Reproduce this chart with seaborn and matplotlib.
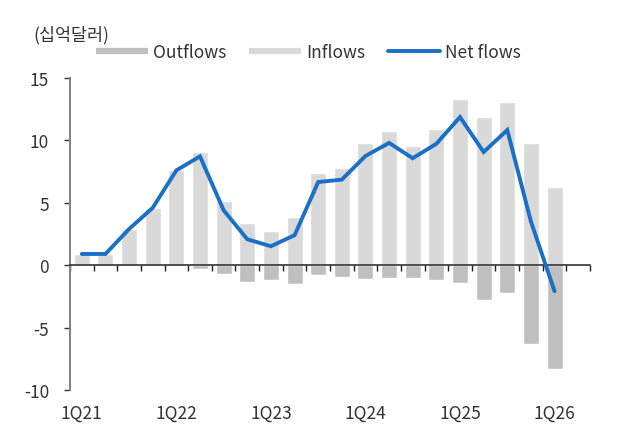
import numpy as np
import pandas as pd
import matplotlib
matplotlib.use("Agg")
import matplotlib.pyplot as plt
from matplotlib.lines import Line2D
from matplotlib.ticker import FixedLocator, NullFormatter
import seaborn as sns

# Quarterly fund flows, in billions of dollars
quarters = ["1Q21", "2Q21", "3Q21", "4Q21",
            "1Q22", "2Q22", "3Q22", "4Q22",
            "1Q23", "2Q23", "3Q23", "4Q23",
            "1Q24", "2Q24", "3Q24", "4Q24",
            "1Q25", "2Q25", "3Q25", "4Q25",
            "1Q26"]
inflows = [0.86, 0.86, 2.93, 4.6, 7.65, 9.04, 5.15, 3.41, 2.75, 3.9, 7.41,
           7.81, 9.8, 10.78, 9.55, 10.88, 13.28, 11.87, 13.07, 9.76, 6.3]
outflows = [0.0, 0.0, -0.02, -0.03, -0.05, -0.32, -0.72, -1.36, -1.2, -1.52,
            -0.75, -0.92, -1.08, -0.99, -1.0, -1.17, -1.44, -2.75, -2.24,
            -6.3, -8.35]
net_flows = [0.9, 0.9, 2.9, 4.6, 7.6, 8.72, 4.4, 2.08, 1.52, 2.4, 6.66,
             6.86, 8.75, 9.8, 8.57, 9.73, 11.87, 9.07, 10.83, 3.5, -2.08]
label_quarters = ["1Q21", "1Q22", "1Q23", "1Q24", "1Q25", "1Q26"]
y_ticks = [-10, -5, 0, 5, 10, 15]

df = pd.DataFrame({"quarter": quarters, "inflows": inflows,
                   "outflows": outflows, "net": net_flows})
df["pos"] = np.arange(len(df))

sns.set_style("white")
plt.rcParams["font.family"] = ["Noto Sans CJK KR", "DejaVu Sans"]
plt.rcParams["axes.unicode_minus"] = False

W, H, DPI = 626, 439, 100
fig = plt.figure(figsize=(W / DPI, H / DPI), dpi=DPI)
ax = fig.add_axes([70 / W, 1 - 391 / H, 520 / W, 312 / H])

c_out = "#bfbfbf"
c_in = "#d9d9d9"
c_net = "#1a6fc7"
txt = "#333333"

sns.barplot(data=df, x="quarter", y="inflows", color=c_in, width=0.68,
            saturation=1, ax=ax, zorder=2)
sns.barplot(data=df, x="quarter", y="outflows", color=c_out, width=0.68,
            saturation=1, ax=ax, zorder=2)
sns.lineplot(data=df, x="pos", y="net", color=c_net, lw=2.8, ax=ax,
             zorder=4, solid_capstyle="round", solid_joinstyle="miter")

n = len(quarters)
ax.set_xlim(-0.5, n + 0.5)
ax.set_ylim(-10, 15)
ax.set_xlabel("")
ax.set_ylabel("")

# axes frame: grey left spine, category axis sitting on zero
for s in ["top", "right"]:
    ax.spines[s].set_visible(False)
ax.spines["left"].set_color("#808080")
ax.spines["left"].set_linewidth(1.4)
ax.spines["bottom"].set_position(("data", 0))
ax.spines["bottom"].set_color("#222222")
ax.spines["bottom"].set_linewidth(1.1)
ax.spines["bottom"].set_zorder(3)

ax.set_yticks(y_ticks)
ax.set_yticklabels([str(v) for v in y_ticks])
ax.tick_params(axis="y", direction="out", length=4, width=1, color="#333333",
               labelsize=12.5, labelcolor=txt, pad=11, left=True)

label_pos = [quarters.index(q) for q in label_quarters]
ax.xaxis.set_major_locator(FixedLocator(label_pos))
ax.set_xticklabels(label_quarters)
ax.xaxis.set_minor_locator(FixedLocator(np.arange(-0.5, n + 0.6, 1.0)))
ax.xaxis.set_minor_formatter(NullFormatter())
zero_px = 391 - 10 * 312 / 25
pad_pt = (405 - zero_px) * 72 / DPI
ax.tick_params(axis="x", which="major", length=0, labelsize=12.5,
               labelcolor=txt, pad=pad_pt, bottom=True)
ax.tick_params(axis="x", which="minor", direction="out", length=4, width=1,
               color="#222222", bottom=True)

handles = [
    Line2D([0], [0], color=c_out, lw=4.5, solid_capstyle="butt"),
    Line2D([0], [0], color=c_in, lw=4.5, solid_capstyle="butt"),
    Line2D([0], [0], color=c_net, lw=2.8, solid_capstyle="round"),
]
fig.legend(handles, ["Outflows", "Inflows", "Net flows"],
           loc="center left", bbox_to_anchor=(96 / W, 1 - 53 / H),
           ncol=3, frameon=False, fontsize=12.5, handlelength=3.0,
           handletextpad=0.3, columnspacing=1.3, borderpad=0,
           borderaxespad=0, labelcolor=txt)

fig.text(33 / W, 1 - 35 / H, "(십억달러)", ha="left", va="center",
         fontsize=12.5, color=txt)

fig.savefig("out.png", dpi=DPI)
